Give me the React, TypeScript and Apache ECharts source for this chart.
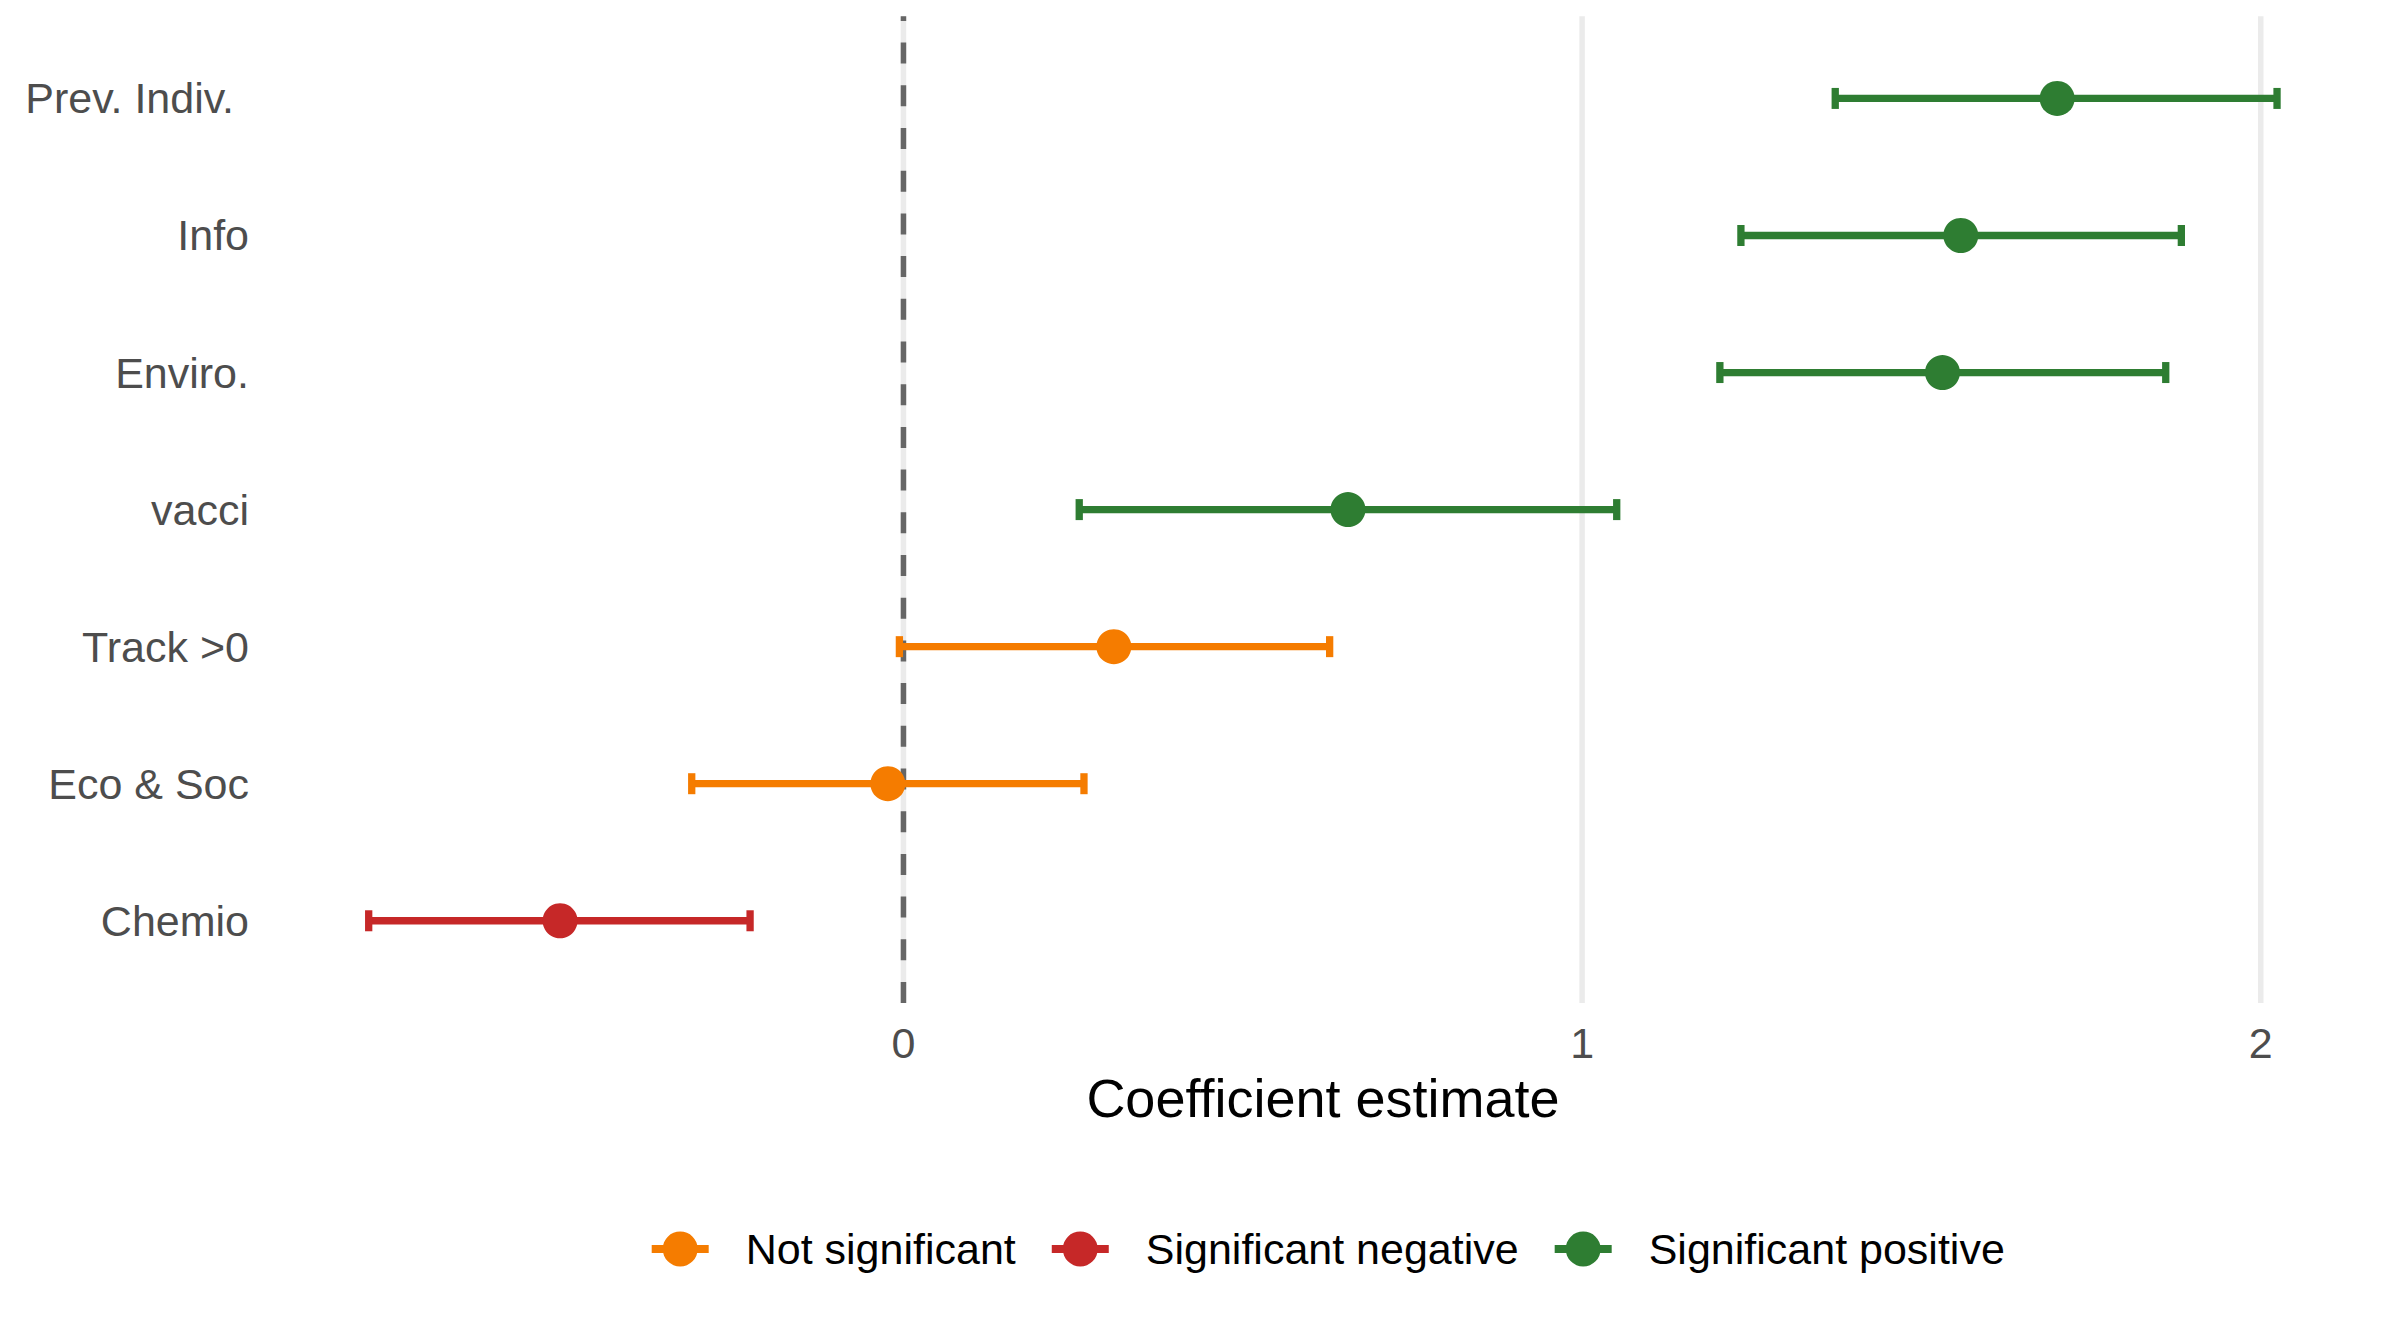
import React, { useEffect, useRef } from "react";
import * as echarts from "echarts";

// Categories (bottom to top on the y axis)
const categories = ["Chemio", "Eco & Soc", "Track >0", "vacci", "Enviro.", "Info", "Prev. Indiv."];
const estimates = [-0.506, -0.023, 0.31, 0.655, 1.531, 1.558, 1.7];
const lowerCI = [-0.788, -0.312, -0.006, 0.259, 1.203, 1.234, 1.373];
const upperCI = [-0.226, 0.266, 0.628, 1.051, 1.86, 1.883, 2.024];
const significance = [
  "Significant negative",
  "Not significant",
  "Not significant",
  "Significant positive",
  "Significant positive",
  "Significant positive",
  "Significant positive",
];
const groups = ["Not significant", "Significant negative", "Significant positive"];
const groupColors = ["#F57C00", "#C62828", "#2E7D32"];
const xTicks = [0, 1, 2];
const zeroLine = [0];

const FONT = "'Liberation Sans', Arial, Helvetica, sans-serif";

const legendIcon =
  "path://M0 13.5 H57 V21.5 H0 Z M11 17.5 A17.5 17.5 0 1 1 46 17.5 A17.5 17.5 0 1 1 11 17.5 Z";

export default function App() {
  const ref = useRef<HTMLDivElement>(null);

  useEffect(() => {
    if (!ref.current) return;
    const chart = echarts.init(ref.current, null, { renderer: "svg" });

    const yPos = categories.map((_, i) => i + 1);

    const series: any[] = [];

    // vertical major gridlines
    series.push({
      name: "grid",
      type: "custom",
      z: 1,
      silent: true,
      clip: false,
      data: xTicks.map((v) => [v, 1]),
      renderItem: (params: any, api: any) => {
        const cs = params.coordSys;
        const x = api.coord([api.value(0), 1])[0];
        return {
          type: "line",
          shape: { x1: x, y1: cs.y + cs.height, x2: x, y2: cs.y },
          style: { stroke: "#EBEBEB", lineWidth: 5.5 },
        };
      },
    });

    // dashed zero line
    series.push({
      name: "zero",
      type: "custom",
      z: 2,
      silent: true,
      clip: false,
      data: zeroLine.map((v) => [v, 1]),
      renderItem: (params: any, api: any) => {
        const cs = params.coordSys;
        const x = api.coord([api.value(0), 1])[0];
        return {
          type: "line",
          shape: { x1: x, y1: cs.y + cs.height, x2: x, y2: cs.y },
          style: { stroke: "#666666", lineWidth: 5.5, lineDash: [21, 21.7], lineCap: "butt" },
        };
      },
    });

    groups.forEach((g, gi) => {
      const color = groupColors[gi];
      const idx = categories.map((_, i) => i).filter((i) => significance[i] === g);
      series.push({
        name: g,
        type: "custom",
        z: 3,
        silent: true,
        itemStyle: { color },
        encode: { x: [0, 1], y: 2 },
        data: idx.map((i) => [lowerCI[i], upperCI[i], yPos[i]]),
        renderItem: (params: any, api: any) => {
          const y = api.value(2);
          const a = api.coord([api.value(0), y]);
          const b = api.coord([api.value(1), y]);
          const capH = 21;
          const lw = 7.3;
          const st = { stroke: color, lineWidth: lw, lineCap: "butt" };
          return {
            type: "group",
            children: [
              { type: "line", shape: { x1: a[0], y1: a[1], x2: b[0], y2: b[1] }, style: st },
              { type: "line", shape: { x1: a[0], y1: a[1] - capH / 2, x2: a[0], y2: a[1] + capH / 2 }, style: st },
              { type: "line", shape: { x1: b[0], y1: b[1] - capH / 2, x2: b[0], y2: b[1] + capH / 2 }, style: st },
            ],
          };
        },
      });
      series.push({
        name: g,
        type: "scatter",
        z: 4,
        symbol: "circle",
        symbolSize: 35,
        itemStyle: { color, opacity: 1 },
        data: idx.map((i) => [estimates[i], yPos[i]]),
      });
    });

    chart.setOption({
      animation: false,
      backgroundColor: "#ffffff",
      grid: { left: 273, right: 27, top: 16.2, bottom: 1339 - 1003 },
      xAxis: {
        type: "value",
        min: -0.929,
        max: 2.1654,
        axisLine: { show: false },
        axisTick: { show: false },
        splitLine: { show: false },
        axisLabel: {
          customValues: xTicks,
          formatter: (v: number) => String(v),
          color: "#4D4D4D",
          fontSize: 43,
          fontFamily: FONT,
          margin: 18.5,
        },
        name: "Coefficient estimate",
        nameLocation: "middle",
        nameGap: 68,
        nameTextStyle: { color: "#000000", fontSize: 54, fontFamily: FONT },
      },
      yAxis: {
        type: "value",
        min: 0.4,
        max: 7.6,
        axisLine: { show: false },
        axisTick: { show: false },
        splitLine: { show: false },
        axisLabel: {
          customValues: yPos,
          formatter: (v: number) => {
            const name = categories[Math.round(v) - 1];
            return name === "Prev. Indiv." ? "{p|" + name + "}" : name;
          },
          color: "#4D4D4D",
          fontSize: 43,
          fontFamily: FONT,
          margin: 24,
          rich: {
            p: { color: "#4D4D4D", fontSize: 43, fontFamily: FONT, padding: [0, 15, 0, 0] },
          },
        },
      },
      legend: {
        data: groups,
        left: 651.7,
        top: 1227.5,
        padding: 0,
        orient: "horizontal",
        icon: legendIcon,
        itemWidth: 57,
        itemHeight: 35,
        itemGap: 36,
        selectedMode: false,
        textStyle: {
          color: "#000000",
          fontSize: 43,
          lineHeight: 35,
          fontFamily: FONT,
          padding: [0, 0, 0, 32],
        },
      },
      series,
    });

    return () => {
      chart.dispose();
    };
  }, []);

  return (
    <div
      ref={ref}
      style={{ position: "fixed", left: 0, top: 0, width: "2400px", height: "1339px", background: "#fff" }}
    />
  );
}
